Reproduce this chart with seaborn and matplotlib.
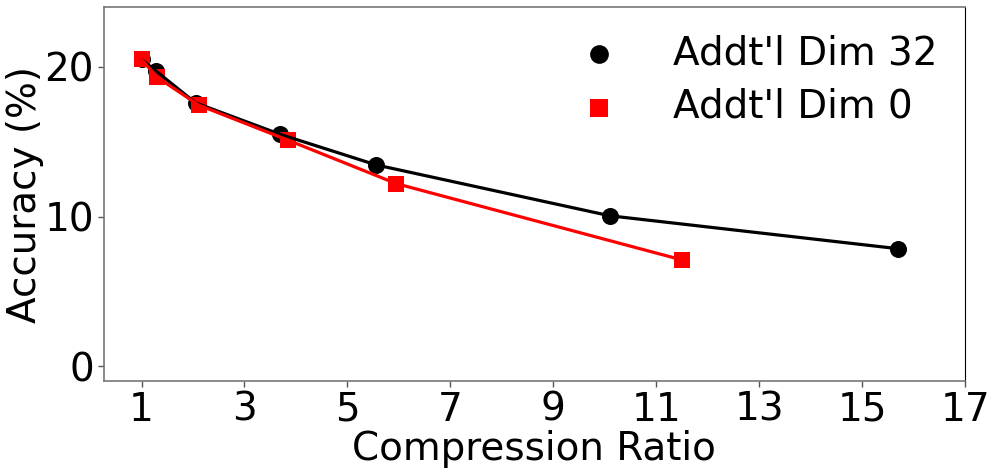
import numpy as np
import pandas as pd
import matplotlib
matplotlib.use("Agg")
import matplotlib.pyplot as plt
import seaborn as sns

# values
ratio_32 = [1.0, 1.29, 2.05, 3.69, 5.56, 10.1, 15.7]
acc_32 = [20.5, 19.7, 17.6, 15.5, 13.45, 10.05, 7.85]
ratio_0 = [1.0, 1.31, 2.11, 3.85, 5.95, 11.5]
acc_0 = [20.5, 19.3, 17.45, 15.1, 12.2, 7.1]

df32 = pd.DataFrame({'ratio': ratio_32, 'acc': acc_32})
df0 = pd.DataFrame({'ratio': ratio_0, 'acc': acc_0})

sns.set_style("white")
plt.rcParams['font.family'] = ['DejaVu Sans']
plt.rcParams['text.color'] = 'black'
plt.rcParams['axes.labelcolor'] = 'black'
plt.rcParams['xtick.color'] = 'black'
plt.rcParams['ytick.color'] = 'black'

fig = plt.figure(figsize=(9.97, 4.74), dpi=100)
ax = fig.add_axes([0.104, 0.196, 0.864, 0.789])

sns.scatterplot(x='ratio', y='acc', data=df32, ax=ax, color='black', marker='o',
                s=150, edgecolor='black', linewidth=0, label="Addt'l Dim 32", zorder=3)
sns.scatterplot(x='ratio', y='acc', data=df0, ax=ax, color='red', marker='s',
                s=140, edgecolor='red', linewidth=0, label="Addt'l Dim 0", zorder=4)
sns.lineplot(x='ratio', y='acc', data=df32, ax=ax, color='black', linewidth=2.3,
             sort=False, legend=False, zorder=5)
sns.lineplot(x='ratio', y='acc', data=df0, ax=ax, color='red', linewidth=2.3,
             sort=False, legend=False, zorder=5)

ax.set_xlim(0.265, 17)
ax.set_ylim(-1, 24)
ax.set_xticks([1, 3, 5, 7, 9, 11, 13, 15, 17])
ax.set_yticks([0, 10, 20])
ax.set_xlabel("Compression Ratio", fontsize=28, labelpad=1)
ax.set_ylabel("Accuracy (%)", fontsize=28, labelpad=0)
ax.tick_params(axis='both', labelsize=28, length=4, width=1,
               direction='out', bottom=True, left=True, pad=3)
ax.tick_params(axis='both', color='#555555')

for side in ['left', 'bottom', 'top']:
    ax.spines[side].set_color('#777777')
    ax.spines[side].set_linewidth(1.2)
ax.spines['right'].set_color('black')
ax.spines['right'].set_linewidth(0.8)

ax.legend(loc='upper right', fontsize=28, frameon=False, markerscale=1.1,
          handletextpad=0.9, borderaxespad=0.3, labelspacing=0.4)

fig.savefig("out.png", dpi=100)
